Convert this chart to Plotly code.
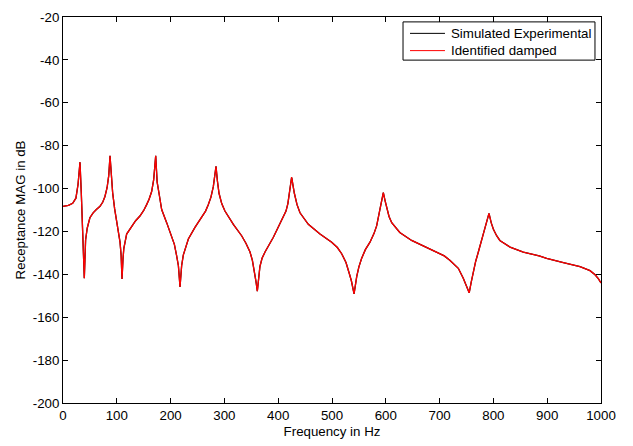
import plotly.graph_objects as go

# Receptance FRF magnitude read along the frequency axis (Hz, dB)
freq_hz = [
    0, 10, 18, 24, 28, 31.6, 34, 37, 39.6, 42, 45, 50, 56, 62, 68.8, 74, 78, 82, 85,
    87.4, 90, 92.3, 96, 99.8, 103, 106, 108, 109.7, 111.5, 113, 118.3, 127.6, 135,
    143, 150, 155.5, 160, 164.8, 168.5, 172.3, 175, 179, 183.4, 192.7, 202, 207, 211,
    214.5, 217.5, 220.5, 223.6, 228, 233, 245, 257.8, 265, 270, 275, 279.4, 282,
    284.4, 287, 290, 295, 301, 316.6, 332, 340, 347.6, 352, 355.6, 358.5, 361.2, 364,
    366, 370, 375.5, 391, 403, 410, 414.5, 418, 420.6, 423, 425, 427.5, 430, 435,
    440.5, 456, 477.7, 499.4, 510, 518, 526, 532, 536, 541, 544, 546, 550, 555, 562,
    570.6, 578, 583, 589, 592.5, 595.4, 598.5, 601.6, 606, 611, 626, 648, 673, 694.6,
    708.7, 719, 734.8, 744, 750, 755, 758.5, 762.7, 767, 772, 781, 787, 791.8, 796,
    800, 806, 812, 831, 855.6, 885, 899, 930, 961, 979.6, 989, 995, 1000,
]
mag_db = [
    -108.3, -107.8, -106.9, -104.5, -98, -87.7, -102, -125, -141.8, -124, -118.5,
    -113.6, -111.3, -109.8, -108.3, -106.3, -103.7, -99.5, -94, -84.7, -95, -102,
    -109.5, -115.9, -120.5, -125, -131, -142.2, -133, -128, -121.2, -117.4, -115,
    -112.8, -110.2, -107.5, -105, -101.4, -96, -84.7, -97, -103, -109.8, -115.9,
    -122, -126, -131, -136, -145.9, -136, -131, -127, -123.5, -118.2, -113.6,
    -110.5, -107.5, -104, -99.1, -95, -89.6, -96.5, -102.2, -107, -110.5, -116.7,
    -122, -125.5, -129.6, -133.5, -138, -143, -147.9, -141, -136.4, -132.5, -129.6,
    -122.7, -116.7, -113, -110.5, -107, -103, -98.5, -94.6, -98.5, -102.2, -107.5,
    -111.3, -116.7, -121.2, -125, -127.5, -130.4, -134.5, -139.5, -143, -149.1,
    -144, -141, -136.5, -132.6, -128.5, -125, -121, -117.4, -109.8, -106, -101.9,
    -105.5, -109, -113, -115.9, -120.5, -124.2, -127.3, -129.6, -131.4, -133.4,
    -137.2, -141.8, -145.5, -148.6, -144, -138.7, -134, -129.6, -121.2, -116.5,
    -111.6, -116, -119, -122, -124.2, -127.3, -129.6, -131.4, -132.6, -134.5,
    -136.4, -138.3, -140.2, -142, -144,
]

series_names = ["Simulated Experimental", "Identified damped"]
series_colors = ["black", "red"]

x_ticks = [0, 100, 200, 300, 400, 500, 600, 700, 800, 900, 1000]
y_ticks = [-200, -180, -160, -140, -120, -100, -80, -60, -40, -20]
# plain hyphen-minus labels, as printed on the axis
y_tick_text = [str(v) for v in y_ticks]
x_tick_text = [str(v) for v in x_ticks]

font_family = "Arial, Liberation Sans, sans-serif"
fs = 13.3

fig = go.Figure()
for name, color in zip(series_names, series_colors):
    fig.add_trace(go.Scatter(
        x=freq_hz, y=mag_db, mode="lines", name=name,
        line=dict(color=color, width=1.3), showlegend=False,
    ))

axis_common = dict(
    showline=True, linecolor="black", linewidth=1, mirror="ticks",
    ticks="inside", ticklen=5, tickcolor="black", tickwidth=1,
    showgrid=False, zeroline=False,
    tickfont=dict(family=font_family, size=fs, color="black"),
)

# Boxed legend in the upper-right corner of the axes (axes-fraction coords)
box_x0, box_x1, box_y0, box_y1 = 0.632, 0.9888, 0.8883, 0.9873
row_y = [0.9576, 0.9129]
line_x0, line_x1, text_x = 0.645, 0.710, 0.7175

shapes = [dict(
    type="rect", xref="x domain", yref="y domain",
    x0=box_x0, x1=box_x1, y0=box_y0, y1=box_y1,
    line=dict(color="black", width=1), fillcolor="white", layer="above",
)]
annotations = []
for name, color, ry in zip(series_names, series_colors, row_y):
    shapes.append(dict(
        type="line", xref="x domain", yref="y domain",
        x0=line_x0, x1=line_x1, y0=ry, y1=ry,
        line=dict(color=color, width=1), layer="above",
    ))
    annotations.append(dict(
        xref="x domain", yref="y domain", x=text_x, y=ry,
        xanchor="left", yanchor="middle", text=name, showarrow=False,
        font=dict(family=font_family, size=fs, color="black"),
    ))

fig.update_layout(
    width=633, height=446,
    margin=dict(l=63, r=32, t=10, b=42),
    paper_bgcolor="white", plot_bgcolor="white",
    font=dict(family=font_family, size=fs, color="black"),
    xaxis=dict(
        range=[0, 1000], tickvals=x_ticks, ticktext=x_tick_text,
        title=dict(text="Frequency in Hz", font=dict(size=fs), standoff=4),
        **axis_common,
    ),
    yaxis=dict(
        range=[-200, -20], tickvals=y_ticks, ticktext=y_tick_text,
        title=dict(text="Receptance MAG in dB", font=dict(size=fs), standoff=4),
        **axis_common,
    ),
    shapes=shapes,
    annotations=annotations,
    showlegend=False,
)

fig.write_html("out.html")
